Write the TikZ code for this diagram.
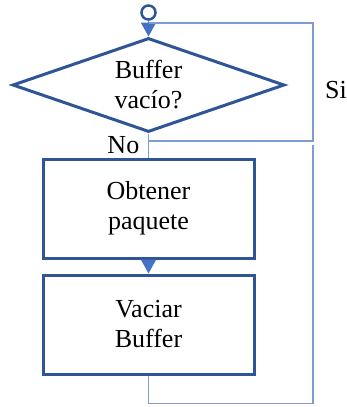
\documentclass[tikz,border=0pt]{standalone}
\usepackage{fontspec}
\setmainfont{Liberation Serif}
\usetikzlibrary{arrows.meta,shapes.geometric,positioning}

\definecolor{flowedge}{HTML}{2F5597}
\definecolor{flowlink}{HTML}{7F9BD3}
\definecolor{flowtip}{HTML}{4472C4}

\tikzset{
    flowtext/.style={font=\fontsize{26}{30}\selectfont,align=center},
    decision/.style={diamond,draw=flowedge,line width=3pt,inner sep=0pt,aspect=2.9,
        minimum width=272pt,minimum height=94pt,flowtext},
    process/.style={rectangle,draw=flowedge,line width=3pt,minimum width=211pt,
        minimum height=99pt,flowtext},
    link/.style={draw=flowlink,line width=1.8pt},
    flowarrow/.style={link,-{Triangle[width=15pt,length=14pt,fill=flowtip,color=flowtip]}}
}

\begin{document}
\begin{tikzpicture}[x=1pt,y=-1pt]

\useasboundingbox (0,0) rectangle (346,407);

\def\flowx{148.5}
\def\loopx{313}

% start and decision
\node (start) [circle,draw=flowedge,line width=2.5pt,minimum size=14pt,inner sep=0pt] at (\flowx,12.5) {};
\node (dec) [decision] at (\flowx,85) {Buffer\\vac\'io?};

% the two steps
\node (get) [process] at (\flowx,208.5) {Obtener\\paquete};
\node (empty) [process] at (\flowx,324.5) {Vaciar\\Buffer};

\draw [flowarrow] (start) -- (dec.north);
\draw [link] (dec.south) -- node (nolabel) [left=5pt,flowtext] {No} (get.north);
\draw [flowarrow] (get.south) -- (empty.north);

% loop back (Si)
\coordinate (sibase) at (\flowx,141);
\coordinate (sitop) at (\loopx,23);
\draw [link] (sibase) -| (sitop) -- (sitop -| start);
\node (silabel) [flowtext] at (336,90) {Si};

% loop after emptying
\coordinate (backup) at (\loopx,145);
\draw [link] (empty.south) -- ++(0,28) -| (backup);

\end{tikzpicture}
\end{document}
